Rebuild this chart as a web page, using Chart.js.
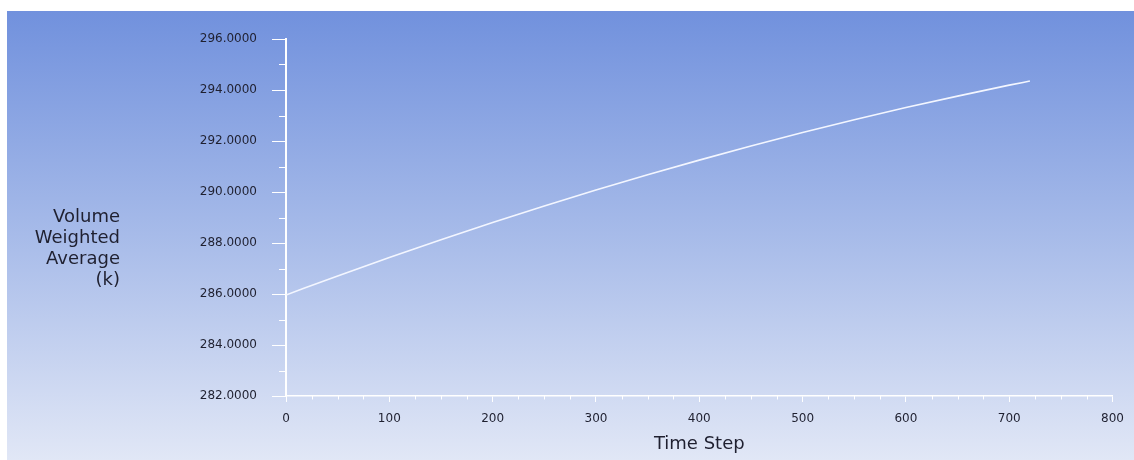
<!DOCTYPE html>
<html>
<head>
<meta charset="utf-8">
<title>Volume Weighted Average Temperature</title>
<script src="https://cdn.jsdelivr.net/npm/chart.js@4/dist/chart.umd.min.js"></script>
<style>
  html, body { margin: 0; padding: 0; background: #ffffff; }
  canvas { display: block; }
</style>
</head>
<body>
<canvas id="plot" width="1134" height="460"></canvas>
<script>
// Monitor history: volume weighted average temperature per time step
const timeSteps = [0, 50, 100, 150, 200, 250, 300, 350, 400, 450, 500, 550, 600, 650, 700, 720];
const avgTemperature = [285.96, 286.71, 287.43, 288.13, 288.80, 289.45, 290.08, 290.68,
                        291.25, 291.80, 292.33, 292.83, 293.31, 293.76, 294.19, 294.35];

// Axis ranges and tick spacing
const xRange = [0, 800];
const xTickStep = 25;
const xLabelEvery = 100;
const yRange = [282, 296];
const yTickStep = 1;
const yLabelEvery = 2;

const yTitleLines = ['Volume', 'Weighted', 'Average', '(k)'];
const xTitle = 'Time Step';

const FONT = "'DejaVu Sans', 'Liberation Sans', Arial, sans-serif";
const TEXT_COLOR = '#1f2030';
const AXIS_COLOR = '#ffffff';

const isMultiple = (v, step) => Math.abs(v / step - Math.round(v / step)) < 1e-6;

// Blue gradient backdrop plus the horizontal, multi-line y title
const backdrop = {
  id: 'backdrop',
  beforeDraw(chart) {
    const ctx = chart.ctx;
    ctx.save();
    ctx.fillStyle = '#ffffff';
    ctx.fillRect(0, 0, chart.width, chart.height);
    const g = ctx.createLinearGradient(0, 11, 0, chart.height);
    g.addColorStop(0, '#7191dd');
    g.addColorStop(0.5, '#a7bbe9');
    g.addColorStop(1, '#e1e7f6');
    ctx.fillStyle = g;
    ctx.fillRect(7, 11, chart.width - 7, chart.height - 11);

    ctx.fillStyle = TEXT_COLOR;
    ctx.font = '18px ' + FONT;
    ctx.textAlign = 'right';
    ctx.textBaseline = 'middle';
    yTitleLines.forEach((line, i) => {
      ctx.fillText(line, 120, 217 + i * 21);
    });
    ctx.restore();
  },
  // shorter minor tick marks between labelled values
  afterDraw(chart) {
    const ctx = chart.ctx;
    const xs = chart.scales.x, ys = chart.scales.y;
    ctx.save();
    ctx.strokeStyle = AXIS_COLOR;
    ctx.lineWidth = 1;
    ys.ticks.forEach(t => {
      if (isMultiple(t.value, yLabelEvery)) return;
      const py = Math.round(ys.getPixelForValue(t.value)) + 0.5;
      ctx.beginPath();
      ctx.moveTo(xs.left - 7, py);
      ctx.lineTo(xs.left, py);
      ctx.stroke();
    });
    xs.ticks.forEach(t => {
      if (isMultiple(t.value, xLabelEvery)) return;
      const px = Math.round(xs.getPixelForValue(t.value)) + 0.5;
      ctx.beginPath();
      ctx.moveTo(px, ys.bottom);
      ctx.lineTo(px, ys.bottom + 3.5);
      ctx.stroke();
    });
    ctx.restore();
  }
};

const points = timeSteps.map((s, i) => ({ x: s, y: avgTemperature[i] }));

new Chart(document.getElementById('plot'), {
  type: 'line',
  data: {
    datasets: [{
      data: points,
      borderColor: '#f3f6ff',
      borderWidth: 1.6,
      pointRadius: 0,
      fill: false,
      cubicInterpolationMode: 'monotone'
    }]
  },
  options: {
    responsive: false,
    animation: false,
    layout: { padding: { left: 0, right: 20, top: 39, bottom: 0 } },
    plugins: { legend: { display: false }, tooltip: { enabled: false } },
    scales: {
      x: {
        type: 'linear',
        min: xRange[0],
        max: xRange[1],
        afterFit(scale) { scale.height = 64; },
        border: { display: true, color: AXIS_COLOR, width: 1.5 },
        grid: {
          display: true,
          drawOnChartArea: false,
          drawTicks: true,
          tickLength: 6,
          tickWidth: 1,
          tickColor: ctx => (ctx.tick && isMultiple(ctx.tick.value, xLabelEvery)) ? AXIS_COLOR : 'rgba(0,0,0,0)'
        },
        ticks: {
          stepSize: xTickStep,
          autoSkip: false,
          maxRotation: 0,
          padding: 10,
          color: TEXT_COLOR,
          font: { family: FONT, size: 12 },
          callback: v => isMultiple(v, xLabelEvery) ? String(v) : ''
        },
        title: {
          display: true,
          text: xTitle,
          color: TEXT_COLOR,
          font: { family: FONT, size: 18 },
          padding: { top: 0, bottom: 5 }
        }
      },
      y: {
        type: 'linear',
        min: yRange[0],
        max: yRange[1],
        afterFit(scale) { scale.width = 286; },
        border: { display: true, color: AXIS_COLOR, width: 2 },
        grid: {
          display: true,
          drawOnChartArea: false,
          drawTicks: true,
          tickLength: 14,
          tickWidth: 1,
          tickColor: ctx => (ctx.tick && isMultiple(ctx.tick.value, yLabelEvery)) ? AXIS_COLOR : 'rgba(0,0,0,0)'
        },
        ticks: {
          stepSize: yTickStep,
          autoSkip: false,
          padding: 15,
          color: TEXT_COLOR,
          font: { family: FONT, size: 12 },
          callback: v => isMultiple(v, yLabelEvery) ? v.toFixed(4) : ''
        }
      }
    }
  },
  plugins: [backdrop]
});
</script>
</body>
</html>
